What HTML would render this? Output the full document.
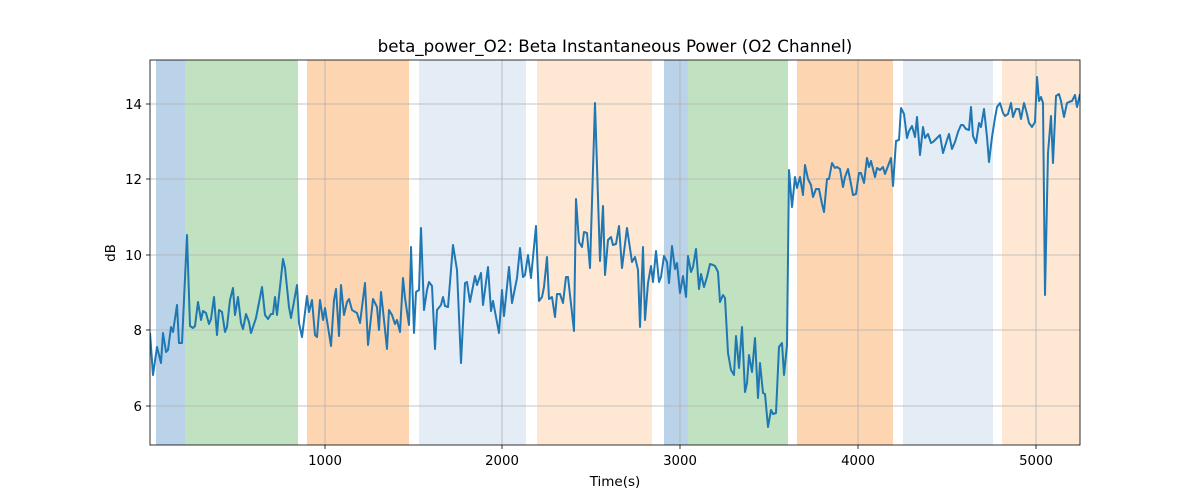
<!DOCTYPE html>
<html><head><meta charset="utf-8"><style>body{margin:0;background:#fff}svg{display:block}text{font-family:"DejaVu Sans","Liberation Sans",sans-serif;fill:#000}</style></head><body>
<svg width="1200" height="500" viewBox="0 0 1200 500" xmlns="http://www.w3.org/2000/svg">
<defs><clipPath id="c"><rect x="150" y="60" width="930" height="385"/></clipPath></defs>
<g>
<rect x="156" y="60" width="29" height="385" fill="#bad3e8"/>
<rect x="185" y="60" width="113" height="385" fill="#c0e2c0"/>
<rect x="307" y="60" width="102" height="385" fill="#fdd5b1"/>
<rect x="419" y="60" width="107" height="385" fill="#e4ecf6"/>
<rect x="537" y="60" width="115" height="385" fill="#fee8d4"/>
<rect x="664" y="60" width="24" height="385" fill="#bad3e8"/>
<rect x="688" y="60" width="100" height="385" fill="#c0e2c0"/>
<rect x="797" y="60" width="96" height="385" fill="#fdd5b1"/>
<rect x="903" y="60" width="90" height="385" fill="#e4ecf6"/>
<rect x="1002" y="60" width="78" height="385" fill="#fee8d4"/>
</g>
<g stroke="#b0b0b0" stroke-width="0.8">
<line x1="325" y1="60" x2="325" y2="445"/><line x1="502" y1="60" x2="502" y2="445"/><line x1="680" y1="60" x2="680" y2="445"/><line x1="858" y1="60" x2="858" y2="445"/><line x1="1036" y1="60" x2="1036" y2="445"/>
<line x1="150" y1="104" x2="1080" y2="104"/><line x1="150" y1="179" x2="1080" y2="179"/><line x1="150" y1="255" x2="1080" y2="255"/><line x1="150" y1="330" x2="1080" y2="330"/><line x1="150" y1="406" x2="1080" y2="406"/>
</g>
<polyline clip-path="url(#c)" fill="none" stroke="#1f77b4" stroke-width="2" stroke-linejoin="round" points="150,333 153,375 157,347 161,363 163,333 166,352 168,350 171,327 173,332 177,305 179,343 182,343 187,235 190,326 193,328 195,326 198,302 201,320 203,311 206,313 209,324 211,319 214,297 217,335 219,310 222,312 225,332 227,327 230,300 233,288 235,315 238,297 241,323 243,329 246,314 249,322 251,333 256,318 262,287 265,315 268,319 271,314 273,314 275,297 277,315 283,259 285,268 289,307 291,318 297,285 299,323 302,337 307,296 309,312 312,300 315,335 317,337 320,300 323,320 325,308 328,327 331,346 334,300 336,289 339,336 341,285 344,315 347,302 349,299 352,310 357,313 360,323 365,283 368,345 373,299 377,307 379,330 381,292 384,320 387,349 389,310 392,315 395,324 397,320 400,332 403,278 405,298 409,325 411,247 414,333 416,292 419,290 421,228 424,310 427,290 429,282 432,286 435,349 437,310 441,305 443,297 445,306 448,307 453,245 457,270 461,363 465,283 467,282 470,302 475,276 477,285 481,273 483,305 488,267 491,311 493,301 499,333 502,290 504,316 509,267 512,303 517,278 520,248 523,277 525,275 528,255 531,278 536,226 539,301 542,297 544,287 547,257 549,299 552,297 555,317 557,294 560,294 563,303 566,277 568,277 574,331 576,199 579,242 582,247 584,232 587,233 590,268 595,103 600,261 603,206 605,275 608,240 611,237 613,245 616,244 619,226 622,268 627,228 632,262 635,257 638,270 640,327 643,247 645,320 648,283 651,266 653,282 656,251 659,282 661,277 664,256 667,262 669,283 672,246 675,269 677,263 680,293 683,276 686,297 688,256 691,272 693,267 696,249 699,289 701,274 704,287 707,277 710,264 713,265 715,266 718,272 720,302 723,295 725,298 728,353 731,370 734,375 736,336 739,368 742,327 745,392 747,383 749,355 752,372 755,338 758,398 760,363 763,393 765,394 768,427 771,410 773,414 776,413 779,347 782,343 784,375 787,345 789,170 792,207 795,177 797,188 800,177 803,195 805,165 808,179 811,185 813,197 816,189 819,189 822,204 824,212 827,179 829,179 832,163 835,168 837,167 840,169 843,187 845,177 848,169 851,184 853,195 856,194 859,173 861,173 864,183 867,158 869,167 871,161 875,177 877,168 880,170 883,167 885,174 888,166 891,158 893,186 896,141 899,140 901,108 904,114 907,138 909,131 912,126 915,137 917,117 920,155 923,127 925,138 928,134 931,143 933,142 937,138 940,135 943,153 947,140 949,134 952,149 955,142 958,132 961,125 963,125 966,129 969,130 971,107 973,136 976,143 979,123 981,127 984,109 987,137 989,162 992,137 995,118 997,107 1000,103 1003,113 1005,116 1008,114 1011,103 1013,117 1016,109 1019,109 1021,119 1024,103 1027,114 1029,123 1032,127 1035,122 1037,77 1039,101 1041,97 1043,103 1045,295 1048,153 1051,116 1053,163 1056,96 1059,94 1061,101 1064,117 1067,103 1069,102 1072,101 1075,95 1077,107 1080,94"/>
<rect x="150" y="60" width="930" height="385" fill="none" stroke="#000" stroke-width="0.8"/>
<g stroke="#000" stroke-width="0.8">
<line x1="325" y1="445" x2="325" y2="449"/><line x1="502" y1="445" x2="502" y2="449"/><line x1="680" y1="445" x2="680" y2="449"/><line x1="858" y1="445" x2="858" y2="449"/><line x1="1036" y1="445" x2="1036" y2="449"/>
<line x1="146" y1="104" x2="150" y2="104"/><line x1="146" y1="179" x2="150" y2="179"/><line x1="146" y1="255" x2="150" y2="255"/><line x1="146" y1="330" x2="150" y2="330"/><line x1="146" y1="406" x2="150" y2="406"/>
</g>
<g font-size="13.3" text-anchor="middle">
<text x="325" y="465">1000</text><text x="502" y="465">2000</text><text x="680" y="465">3000</text><text x="858" y="465">4000</text><text x="1036" y="465">5000</text>
</g>
<g font-size="13.3" text-anchor="end">
<text x="142" y="109">14</text><text x="142" y="184">12</text><text x="142" y="260">10</text><text x="142" y="335">8</text><text x="142" y="411">6</text>
</g>
<text x="615" y="486" font-size="13.5" text-anchor="middle">Time(s)</text>
<text transform="translate(115,253) rotate(-90)" font-size="13.5" text-anchor="middle">dB</text>
<text x="615" y="52" font-size="16.7" text-anchor="middle">beta_power_O2: Beta Instantaneous Power (O2 Channel)</text>
</svg>
</body></html>
